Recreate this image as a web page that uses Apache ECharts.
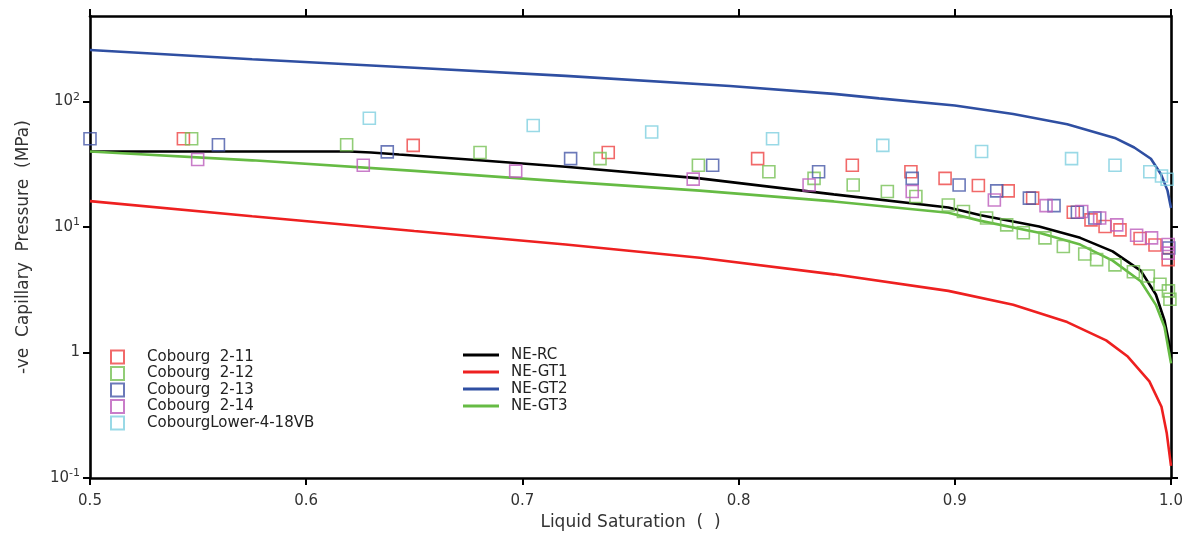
<!DOCTYPE html>
<html>
<head>
<meta charset="utf-8">
<script src="https://cdn.jsdelivr.net/npm/echarts@6/dist/echarts.min.js"></script>
<style>html,body{margin:0;padding:0;background:#fff;}#c{width:1186px;height:536px;}</style>
</head>
<body>
<div id="c"></div>
<script>
// ---- data (Liquid Saturation, -ve Capillary Pressure MPa) ----
const xTicks = [0.5, 0.6, 0.7, 0.8, 0.9, 1.0];
const yTicks = [0.1, 1, 10, 100];

const cob211 = [[0.5432,50.5],[0.6495,44.7],[0.7397,39.2],[0.8088,35.1],[0.8526,31.1],[0.8797,27.6],[0.8955,24.4],[0.9109,21.4],[0.9247,19.4],[0.936,17],[0.9548,13.1],[0.963,11.4],[0.9695,10.1],[0.9764,9.5],[0.9857,8.1],[0.9926,7.2],[0.9987,5.5]];
const cob212 = [[0.547,50.5],[0.6187,45.3],[0.6804,39.2],[0.7359,35.1],[0.7814,31.1],[0.814,27.6],[0.8349,24.4],[0.853,21.6],[0.8688,19.2],[0.882,17.5],[0.897,15.0],[0.904,13.3],[0.9147,11.8],[0.924,10.4],[0.9317,9.0],[0.9417,8.2],[0.9502,7.0],[0.9601,6.1],[0.9656,5.5],[0.9741,5.0],[0.9826,4.4],[0.9895,4.07],[0.9949,3.5],[0.9988,3.1],[0.9995,2.66]];
const cob213 = [[0.5,50.5],[0.5594,45.3],[0.6375,39.7],[0.7223,35.1],[0.788,31.1],[0.837,27.6],[0.8803,24.4],[0.902,21.6],[0.9194,19.4],[0.9345,17],[0.9459,14.8],[0.9567,13.1],[0.9648,11.8],[0.999,6.8]];
const cob214 = [[0.5498,34.5],[0.6264,31.1],[0.6969,27.9],[0.779,24.1],[0.8326,21.6],[0.8803,19.2],[0.9183,16.4],[0.9422,14.8],[0.9587,13.3],[0.967,11.8],[0.9749,10.4],[0.9841,8.6],[0.991,8.2],[0.9987,7.25],[0.9987,6.2]];
const cobLower = [[0.6292,73.6],[0.705,64.4],[0.7598,57.1],[0.8157,50.5],[0.8667,44.7],[0.9124,40],[0.954,35.1],[0.9741,31.1],[0.9902,27.6],[0.9956,25.5],[0.9982,24]];

const neRC  = [[0.5,40],[0.56,40],[0.62,40],[0.63,39.3],[0.643,37.8],[0.68,34],[0.72,30.2],[0.782,24.4],[0.844,18.2],[0.897,14.3],[0.912,12.4],[0.939,10.1],[0.958,8.2],[0.973,6.4],[0.986,4.5],[0.993,2.9],[0.997,1.8],[1.0,1.0]];
const neGT1 = [[0.5,16.1],[0.575,12.2],[0.65,9.3],[0.72,7.25],[0.782,5.7],[0.844,4.2],[0.897,3.1],[0.927,2.4],[0.952,1.75],[0.97,1.25],[0.98,0.93],[0.99,0.59],[0.9956,0.37],[0.998,0.23],[1.0,0.125]];
const neGT2 = [[0.5,257],[0.575,217],[0.65,186],[0.72,160],[0.796,133],[0.844,115],[0.865,106],[0.9,93],[0.927,79.5],[0.952,66],[0.974,51.3],[0.983,43],[0.9907,35],[0.9953,26.5],[0.9984,19.5],[1.0,14.2]];
const neGT3 = [[0.5,40],[0.575,34],[0.65,28],[0.72,23],[0.782,19.5],[0.844,16],[0.897,13.0],[0.912,11.2],[0.939,9.0],[0.958,7.25],[0.973,5.4],[0.986,3.7],[0.993,2.4],[0.997,1.6],[1.0,0.82]];

const FONT = 'DejaVu Sans';
const chart = echarts.init(document.getElementById('c'), null, {renderer: 'canvas'});

function sq(name, data, color) {
  return {name, type: 'scatter', data, symbol: 'rect', symbolSize: 12, z: 3,
    itemStyle: {color: 'rgba(255,255,255,0)', borderColor: color, borderWidth: 1.6}};
}
function ln(name, data, color) {
  return {name, type: 'line', data, showSymbol: false, symbol: 'none', z: 2,
    lineStyle: {color, width: 2.6}, itemStyle: {color}};
}
const axisLine = {show: true, onZero: false, lineStyle: {color: '#000', width: 2.6}};
const axisTick = {show: true, inside: false, length: 7, lineStyle: {color: '#000', width: 2}};

function yFmt(v) {
  const l = Math.log10(v), e = Math.round(l);
  if (Math.abs(l - e) > 1e-6) return '';
  if (e === 0) return '1';
  return '10{s|' + e + '}';
}

chart.setOption({
  animation: false,
  backgroundColor: '#fff',
  grid: {left: 90, right: 15, top: 16, bottom: 54.5, containLabel: false},
  xAxis: [{
    type: 'value', min: 0.5, max: 1.0, interval: 0.1, position: 'bottom',
    axisLine, axisTick, splitLine: {show: false},
    axisLabel: {color: '#333', fontFamily: FONT, fontSize: 15, margin: 16,
      formatter: v => v.toFixed(1)},
    name: 'Liquid Saturation  (  )', nameLocation: 'middle', nameGap: 32,
    nameTextStyle: {color: '#333', fontFamily: FONT, fontSize: 17}
  }, {
    type: 'value', min: 0.5, max: 1.0, interval: 0.1, position: 'top',
    axisLine, axisTick, splitLine: {show: false}, axisLabel: {show: false}
  }],
  yAxis: [{
    type: 'log', logBase: 10, min: 0.1, max: 480, position: 'left',
    axisLine, axisTick: Object.assign({customValues: yTicks}, axisTick),
    splitLine: {show: false}, minorTick: {show: false},
    axisLabel: {customValues: yTicks, color: '#333', fontFamily: FONT, fontSize: 15, margin: 10,
      formatter: yFmt,
      rich: {s: {fontSize: 11, fontFamily: FONT, color: '#333', padding: [0, 0, 9, 0]}}},
    name: '-ve  Capillary  Pressure  (MPa)', nameLocation: 'middle', nameGap: 58,
    nameTextStyle: {color: '#333', fontFamily: FONT, fontSize: 17}
  }, {
    type: 'log', logBase: 10, min: 0.1, max: 480, position: 'right',
    axisLine, axisTick: Object.assign({customValues: yTicks}, axisTick),
    splitLine: {show: false}, axisLabel: {show: false}
  }],
  legend: [{
    orient: 'vertical', left: 110, top: 349, padding: 0, itemWidth: 13, itemHeight: 13, itemGap: 0.5,
    data: ['Cobourg  2-11', 'Cobourg  2-12', 'Cobourg  2-13', 'Cobourg  2-14', 'CobourgLower-4-18VB'],
    textStyle: {color: '#222', fontFamily: FONT, fontSize: 15, lineHeight: 16, padding: [0, 0, 0, 18]},
    selectedMode: false
  }, {
    orient: 'vertical', left: 463, top: 346.5, padding: 0, itemWidth: 36, itemHeight: 3, itemGap: 0,
    icon: 'rect',
    data: ['NE-RC', 'NE-GT1', 'NE-GT2', 'NE-GT3'],
    textStyle: {color: '#222', fontFamily: FONT, fontSize: 15, padding: [0, 0, 0, 7], lineHeight: 17},
    selectedMode: false
  }],
  series: [
    ln('NE-RC', neRC, '#000000'),
    ln('NE-GT1', neGT1, '#ee2020'),
    ln('NE-GT2', neGT2, '#2f4fa2'),
    ln('NE-GT3', neGT3, '#66bb44'),
    sq('Cobourg  2-11', cob211, '#ee4444'),
    sq('Cobourg  2-12', cob212, '#77c055'),
    sq('Cobourg  2-13', cob213, '#4658a8'),
    sq('Cobourg  2-14', cob214, '#bb5cbb'),
    sq('CobourgLower-4-18VB', cobLower, '#7fcfe0')
  ]
});
</script>
</body>
</html>
